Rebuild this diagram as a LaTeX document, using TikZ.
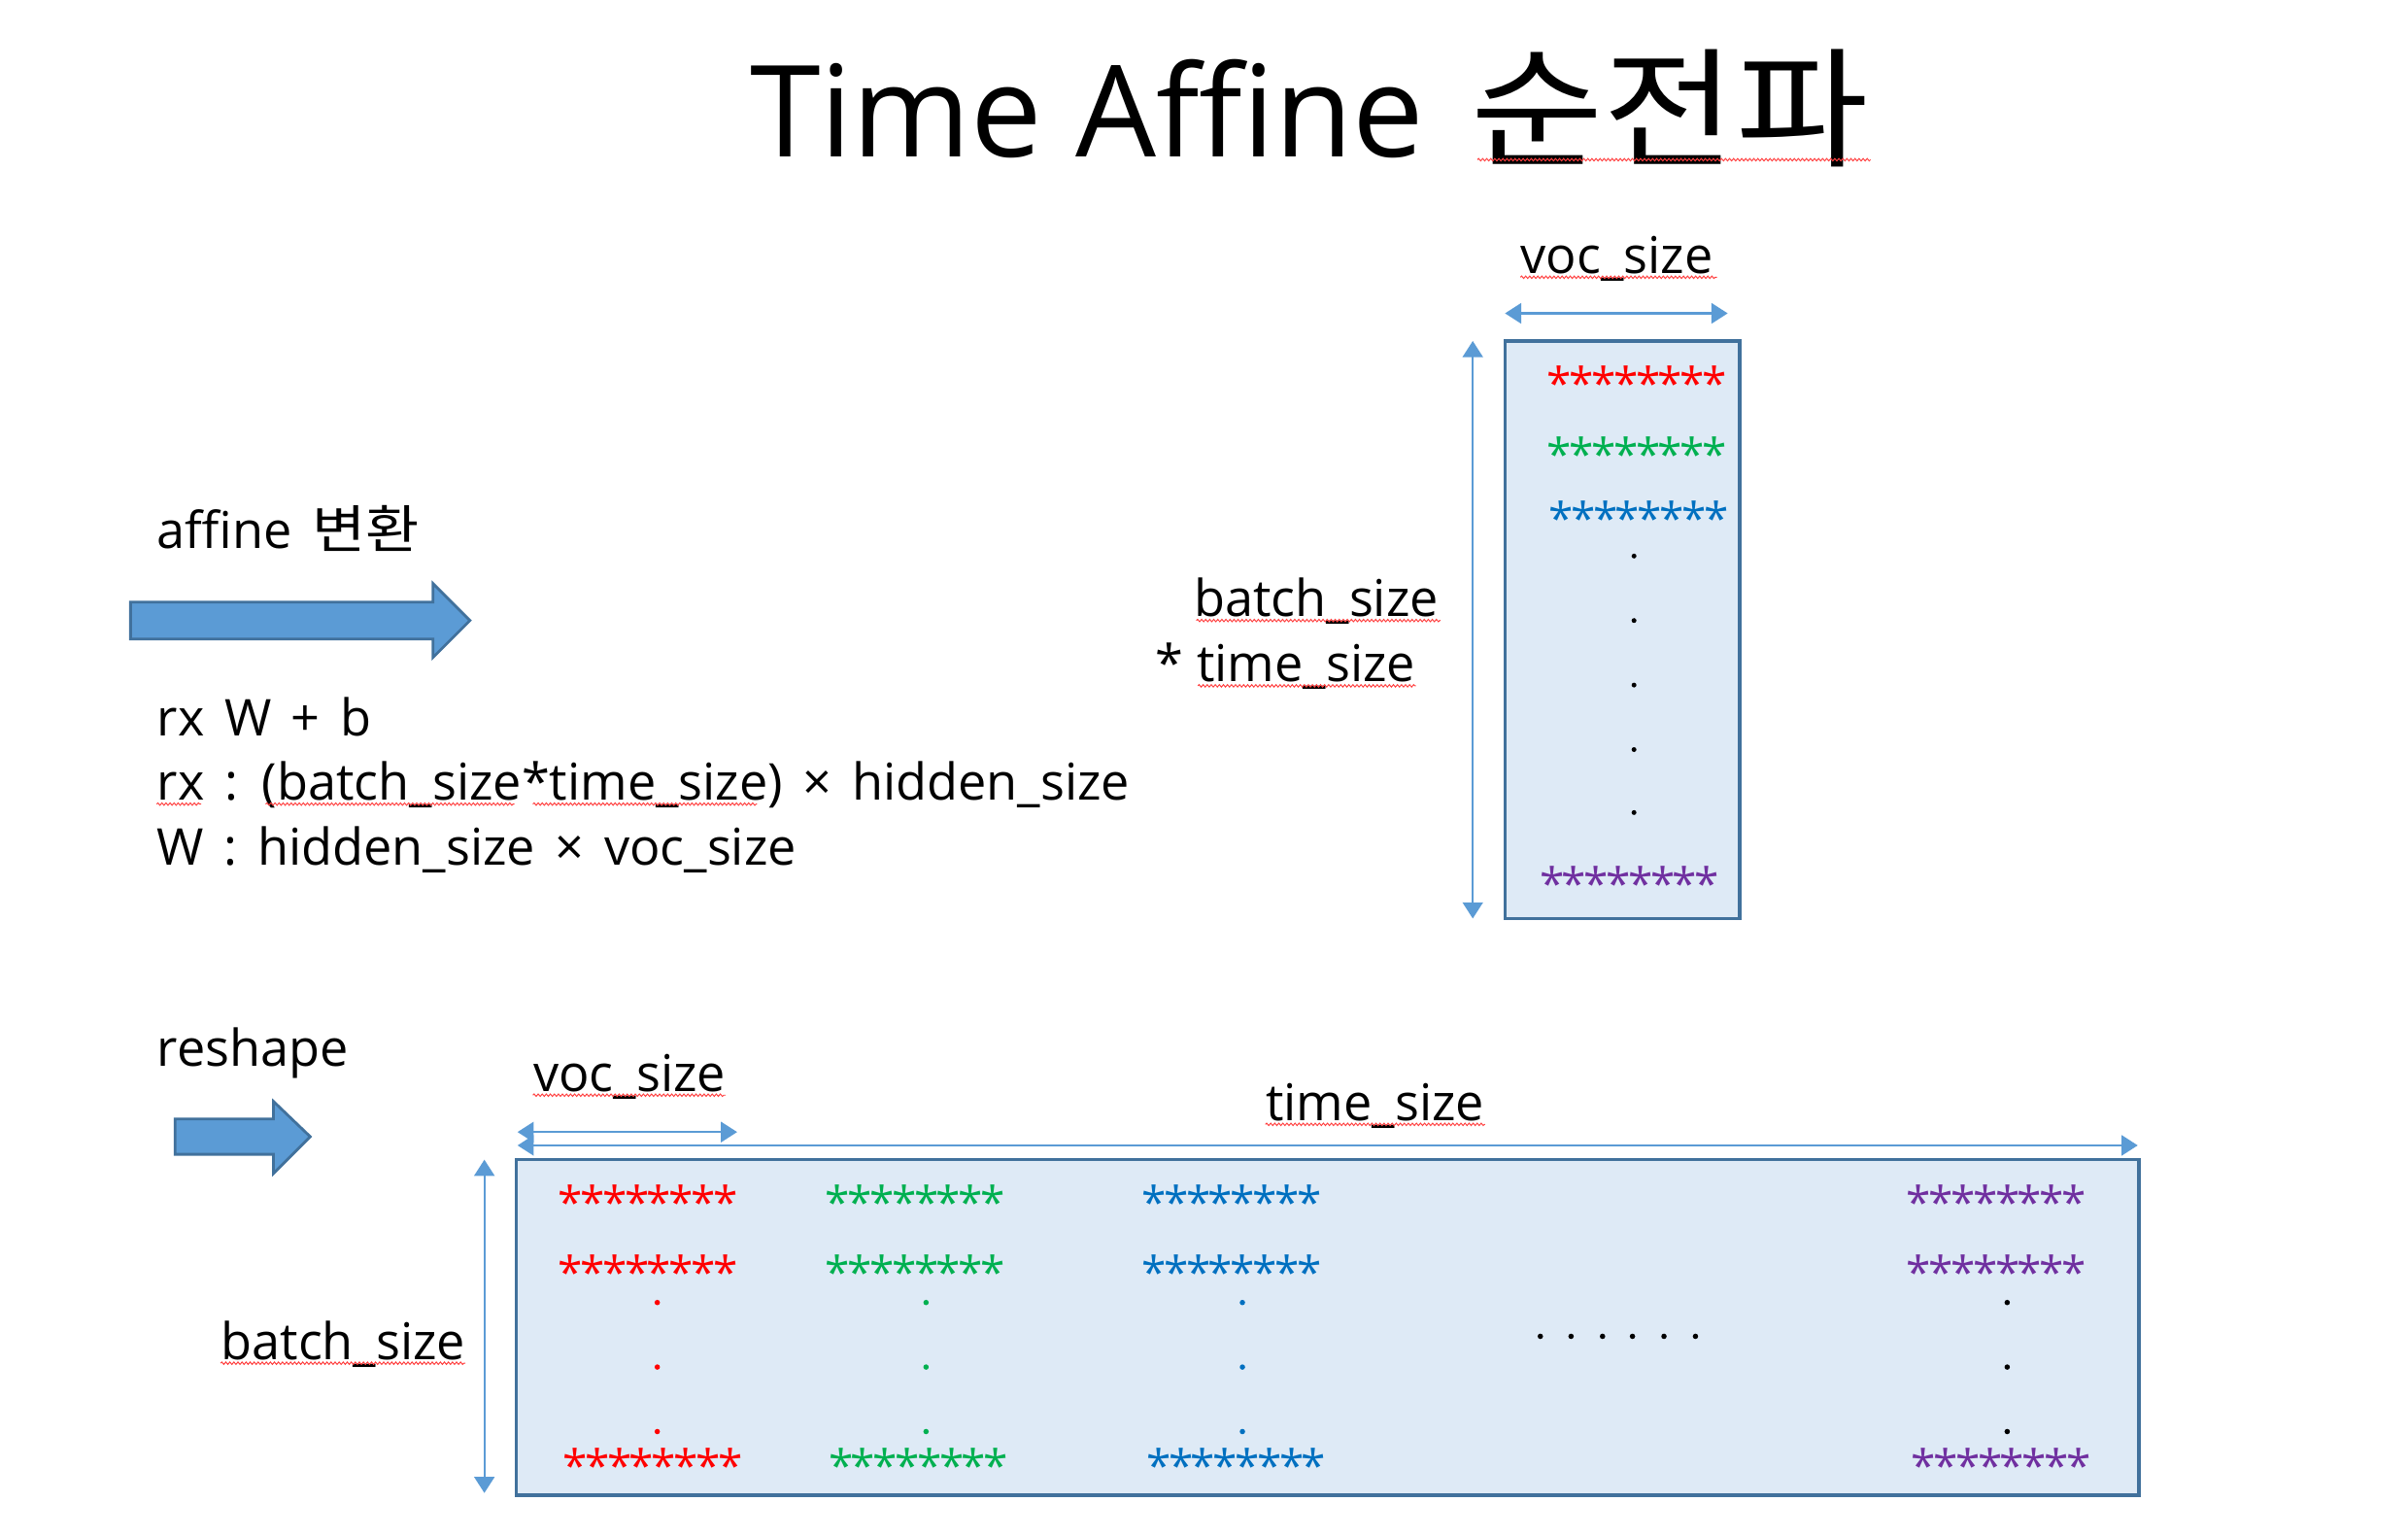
\documentclass[tikz,border=0pt]{standalone}
\usepackage{fontspec}
\setmainfont{Open Sans}
\newfontfamily\kr{Noto Sans CJK KR}
\usetikzlibrary{arrows.meta,decorations.pathmorphing}

\definecolor{linkblue}{HTML}{5B9BD5}
\definecolor{edgeblue}{HTML}{41719C}
\definecolor{panel}{HTML}{DEEAF6}
\definecolor{sred}{HTML}{FF0000}
\definecolor{sgreen}{HTML}{00B050}
\definecolor{sblue}{HTML}{0070C0}
\definecolor{spurple}{HTML}{7030A0}

% Hangul set a little wider than the Latin face
\newcommand\hangul[1]{\scalebox{1.15}[1.02]{\kr #1}}
% wider interword space for the formula lines
\newcommand\widespace{\spaceskip 7.4pt\relax}
% asterisks on a fixed pitch
\newcommand\onestar{\makebox[8.2pt][c]{*}}
\newcommand\eightstars{\onestar\onestar\onestar\onestar\onestar\onestar\onestar\onestar}
% one row of eight asterisks, placed by its left end and vertical middle
\newcommand\starrow[4]{\node[stars,text=#2] (#1) at (#3-1,#4+15.2) {\eightstars};}

\begin{document}
\begin{tikzpicture}[x=0.02cm,y=-0.02cm,
  txt/.style={anchor=base west,inner sep=0pt,font=\fontsize{18.8}{22}\selectfont},
  body/.style={txt,font=\fontsize{18.8}{22}\selectfont\widespace},
  heading/.style={anchor=base west,inner sep=0pt,font=\fontsize{47.2}{56}\selectfont},
  stars/.style={anchor=base west,inner sep=0pt,font=\fontsize{16.5}{20}\selectfont},
  squig/.style={draw=red!75,line width=0.35pt,decorate,
    decoration={snake,amplitude=0.45pt,segment length=1.5pt}},
  dim/.style={draw=linkblue,line width=0.8pt,
    {Triangle[length=6pt,width=7.5pt]}-{Triangle[length=6pt,width=7.5pt]}},
  panelbox/.style={draw=edgeblue,fill=panel,line width=1.3pt,inner sep=0pt},
  blockarrow/.style={fill=linkblue,draw=edgeblue,line width=1pt},
  dot/.style={fill=#1},
]
\useasboundingbox (0,0) rectangle (1568,1000);

% title
\node[heading] (title) at (488,102) {Time Affine\hspace{5pt} \scalebox{1.13}[1.02]{\kr 순전파}};
\draw[squig] (962,104) -- (1218,104);

% ---- affine step ----
\node[body] (affine) at (102,357) {affine \hangul{변환}};
\draw[blockarrow] (85,392) -- (282,392) -- (282,380) -- (306,404)
  -- (282,428) -- (282,416) -- (85,416) -- cycle;
\node[body] (eq1) at (102,479) {rx W + b};
\node[body] (eq2) at (102,521) {rx : (batch\_size*time\_size) × hidden\_size};
\node[body] (eq3) at (102,563) {W : hidden\_size × voc\_size};
\draw[squig] (102,523.5) -- (131,523.5);
\draw[squig] (173,523.5) -- (335,523.5);
\draw[squig] (347,523.5) -- (493,523.5);

% affine output matrix
\node[panelbox,minimum width=3.06cm,minimum height=7.52cm] (topbox) at (1056.5,410) {};
\node[txt] (topvoc) at (990,178) {voc\_size};
\draw[squig] (990,180.5) -- (1118,180.5);
\coordinate (tvl) at (980,204);
\coordinate (tvr) at (1125,204);
\draw[dim] (tvl) -- (tvr);
\coordinate (tbt) at (959,222);
\coordinate (tbb) at (959,598);
\draw[dim] (tbt) -- (tbb);
\node[txt,anchor=base east] (topbatch) at (937,401.6) {batch\_size};
\node[txt,anchor=base east] (toptime) at (922,444) {* time\_size};
\draw[squig] (779,404) -- (938,404);
\draw[squig] (780,446.5) -- (922,446.5);

\starrow{tr}{sred}{1009}{245}
\starrow{tg}{sgreen}{1009}{291}
\starrow{tb}{sblue}{1010}{333}
\starrow{tp}{spurple}{1004}{571}
\foreach \y in {362,404,446,488,529}
  \fill[dot=black] (1064,\y) circle (0.9pt);

% ---- reshape step ----
\node[txt] (reshape) at (102,694) {reshape};
\draw[blockarrow] (114,728.5) -- (178,728.5) -- (178,717) -- (202,740)
  -- (178,764) -- (178,751.5) -- (114,751.5) -- cycle;

\node[panelbox,minimum width=21.14cm,minimum height=4.374cm] (botbox) at (864.5,864.15) {};
\node[txt] (botvoc) at (347,710.5) {voc\_size};
\draw[squig] (347,713) -- (472.5,713);
\coordinate (bvl) at (337,737);
\coordinate (bvr) at (480,737);
\draw[dim] (bvl) -- (bvr);
\node[txt] (bottime) at (824,729.4) {time\_size};
\draw[squig] (824,732) -- (967,732);
\coordinate (btl) at (337,745.7);
\coordinate (btr) at (1392,745.7);
\draw[dim] (btl) -- (btr);
\coordinate (bbt) at (315.4,755);
\coordinate (bbb) at (315.4,972);
\draw[dim] (bbt) -- (bbb);
\node[txt] (botbatch) at (143.6,885) {batch\_size};
\draw[squig] (143.6,887.5) -- (303,887.5);

% columns of the reshaped tensor
\starrow{c1a}{sred}{365}{778}
\starrow{c1b}{sred}{365}{824}
\starrow{c1c}{sred}{368}{950}
\starrow{c2a}{sgreen}{539}{778}
\starrow{c2b}{sgreen}{539}{824}
\starrow{c2c}{sgreen}{541}{950}
\starrow{c3a}{sblue}{745}{778}
\starrow{c3b}{sblue}{745}{824}
\starrow{c3c}{sblue}{748}{950}
\starrow{c4a}{spurple}{1243}{778}
\starrow{c4b}{spurple}{1243}{824}
\starrow{c4c}{spurple}{1246}{950}
\foreach \x/\c in {428/sred,603/sgreen,809/sblue,1307/black}
  \foreach \y in {848,890,932}
    \fill[dot=\c] (\x,\y) circle (1pt);
\foreach \x in {1003,1023,1043.5,1063,1083.5,1104}
  \fill[dot=black] (\x,870) circle (1pt);
\end{tikzpicture}
\end{document}
